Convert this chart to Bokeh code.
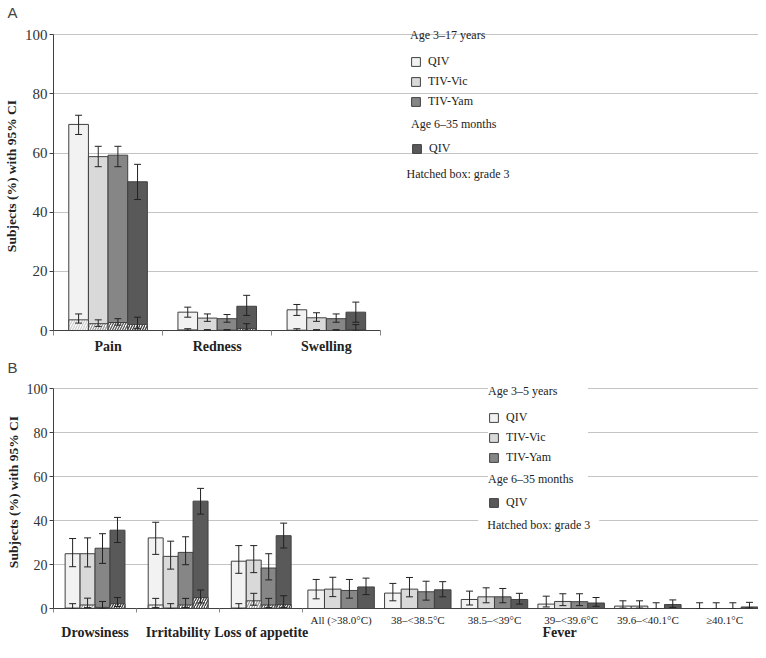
from bokeh.plotting import figure
from bokeh.models import (ColumnDataSource, Whisker, TeeHead, FixedTicker, LinearAxis,
                          Range1d, Legend, LegendItem, Label)
from bokeh.layouts import column
from bokeh.embed import file_html
from bokeh.resources import INLINE

# ---------------- data ----------------
series_labels = ["QIV", "TIV-Vic", "TIV-Yam", "QIV"]

# Panel A: local reactions, age 3-17 y (QIV, TIV-Vic, TIV-Yam) and 6-35 m (QIV)
a_categories = ["Pain", "Redness", "Swelling"]
a_any = [
    [69.7, 6.2, 7.0],
    [58.8, 4.2, 4.3],
    [59.3, 4.0, 4.0],
    [50.3, 8.2, 6.2],
]
a_any_lo = [
    [66.3, 4.5, 5.1],
    [55.4, 3.1, 3.1],
    [55.4, 2.8, 2.8],
    [44.3, 5.1, 2.8],
]
a_any_hi = [
    [72.8, 7.9, 8.8],
    [62.3, 5.6, 6.0],
    [62.3, 5.4, 5.6],
    [56.2, 11.9, 9.6],
]
a_g3 = [
    [3.6, 0.2, 0.1],
    [2.3, 0.0, 0.0],
    [2.7, 0.1, 0.0],
    [2.0, 0.7, 0.3],
]
a_g3_lo = [
    [2.5, 0.0, 0.0],
    [1.4, 0.0, 0.0],
    [1.8, 0.0, 0.0],
    [0.6, 0.1, 0.0],
]
a_g3_hi = [
    [5.6, 0.6, 0.6],
    [3.6, 0.3, 0.3],
    [4.0, 0.3, 0.3],
    [4.5, 2.3, 2.0],
]

# Panel B: systemic reactions, age 3-5 y and 6-35 m
b_main_categories = ["Drowsiness", "Irritability", "Loss of appetite"]
b_fever_categories = ["All (>38.0°C)", "38–<38.5°C", "38.5–<39°C",
                      "39–<39.6°C", "39.6–<40.1°C", "≥40.1°C"]
b_fever_title = "Fever"
b_any = [
    [24.9, 32.1, 21.5, 8.4, 7.0, 4.1, 2.0, 1.1, 0.0],
    [24.9, 23.7, 22.0, 8.8, 8.8, 5.3, 3.2, 1.1, 0.0],
    [27.4, 25.5, 18.4, 8.2, 7.6, 5.3, 3.1, 0.0, 0.0],
    [35.6, 48.8, 33.1, 9.8, 8.5, 4.1, 2.5, 1.8, 0.7],
]
b_any_lo = [
    [19.0, 24.6, 16.0, 4.4, 3.5, 1.6, 0.7, 0.2, 0.0],
    [18.9, 17.9, 16.3, 5.4, 5.3, 2.6, 1.3, 0.2, 0.0],
    [20.5, 19.9, 13.0, 4.7, 3.8, 2.6, 1.3, 0.0, 0.0],
    [30.0, 42.9, 27.5, 6.3, 5.3, 2.0, 1.0, 0.5, 0.2],
]
b_any_hi = [
    [31.8, 39.2, 28.6, 13.2, 11.4, 7.9, 5.6, 3.5, 2.6],
    [32.1, 30.6, 28.6, 14.2, 14.1, 9.4, 6.7, 3.5, 2.6],
    [34.0, 32.6, 24.9, 13.2, 12.4, 9.1, 6.7, 2.6, 2.6],
    [41.4, 54.6, 38.8, 13.8, 12.2, 6.9, 5.0, 3.9, 2.8],
]
b_g3 = [
    [0.2, 1.6, 0.2],
    [1.6, 0.2, 3.5],
    [0.5, 1.6, 1.6],
    [2.2, 5.0, 1.8],
]
b_g3_lo = [
    [0.0, 0.4, 0.0],
    [0.4, 0.0, 1.5],
    [0.0, 0.4, 0.4],
    [0.9, 2.5, 0.5],
]
b_g3_hi = [
    [2.2, 4.6, 2.2],
    [4.7, 2.2, 6.9],
    [3.2, 4.6, 4.6],
    [5.0, 8.4, 5.8],
]

y_ticks = [0, 20, 40, 60, 80, 100]

# ---------------- style ----------------
FILLS = ["#f2f2f2", "#d9d9d9", "#868686", "#595959"]
HATCH = ["#d0d0d0", "#9a9a9a", "#5a5a5a", "#404040"]
EDGE = "#404040"
INK = "#222222"
SERIF = "Liberation Serif"
GRID = "#c4c4c4"


def base_fig(height, x_end, y_end, ytick_size, letter, title_standoff):
    p = figure(width=758, height=height, output_backend="svg", toolbar_location=None,
               x_range=Range1d(0, x_end), y_range=Range1d(0, y_end),
               min_border_left=41, min_border_right=0,
               min_border_top=0, min_border_bottom=0)
    p.outline_line_color = None
    p.xgrid.visible = False
    p.ygrid.ticker = FixedTicker(ticks=y_ticks)
    p.ygrid.grid_line_color = GRID
    ya = p.yaxis[0]
    ya.ticker = FixedTicker(ticks=y_ticks)
    ya.bounds = (0, 100)
    ya.axis_label = "Subjects (%) with 95% CI"
    ya.axis_label_text_font = SERIF
    ya.axis_label_text_font_style = "bold"
    ya.axis_label_text_font_size = "13.5px"
    ya.axis_label_text_color = INK
    ya.axis_label_standoff = 3
    ya.major_label_text_font = SERIF
    ya.major_label_text_font_size = ytick_size
    ya.major_label_text_color = "#333333"
    ya.major_label_standoff = 2
    ya.major_tick_out = 4
    ya.major_tick_in = 0
    ya.minor_tick_out = 0
    ya.minor_tick_in = 0
    ya.axis_line_color = EDGE
    ya.major_tick_line_color = EDGE
    xa = p.xaxis[0]
    xa.axis_label = None
    xa.axis_label_standoff = 0
    xa.axis_line_color = EDGE
    xa.major_tick_out = 0
    xa.major_tick_in = 0
    xa.minor_tick_in = 0
    xa.minor_tick_line_color = "#888888"
    xa.major_label_text_font = SERIF
    xa.major_label_text_color = INK
    p.title.text = letter
    p.title.text_font = "Liberation Sans"
    p.title.text_font_style = "normal"
    p.title.text_font_size = "15px"
    p.title.offset = -46
    p.title.standoff = title_standoff
    return p


def draw_bars(p, centers, widths, vals, lo, hi, g3=None, g3lo=None, g3hi=None):
    renderers = []
    whisk_x, whisk_lo, whisk_hi = [], [], []
    for k in range(4):
        xs = [c + (k - 1.5) * w for c, w in zip(centers, widths)]
        src = ColumnDataSource(dict(x=xs, top=vals[k], w=widths))
        r = p.vbar(x="x", top="top", width="w", source=src, fill_color=FILLS[k],
                   line_color=EDGE, line_width=1)
        renderers.append(r)
        whisk_x += xs
        whisk_lo += lo[k]
        whisk_hi += hi[k]
    if g3 is not None:
        for k in range(4):
            n = len(g3[k])
            xs = [c + (k - 1.5) * w for c, w in zip(centers[:n], widths[:n])]
            src = ColumnDataSource(dict(x=xs, top=g3[k], w=widths[:n]))
            p.vbar(x="x", top="top", width="w", source=src, fill_color="white",
                   line_color=EDGE, line_width=1, hatch_pattern="/",
                   hatch_color=HATCH[k], hatch_scale=5, hatch_weight=1.3)
            whisk_x += xs
            whisk_lo += g3lo[k]
            whisk_hi += g3hi[k]
    wsrc = ColumnDataSource(dict(x=whisk_x, lo=whisk_lo, hi=whisk_hi))
    wh = Whisker(base="x", lower="lo", upper="hi", source=wsrc, dimension="height",
                 line_color=INK, line_width=1, level="overlay",
                 upper_head=TeeHead(size=7, line_color=INK, line_width=1),
                 lower_head=TeeHead(size=7, line_color=INK, line_width=1))
    p.add_layout(wh)
    return renderers


def legend_block(p, renderers, title, loc, standoff, **kw):
    items = [LegendItem(label=series_labels[i], renderers=[renderers[i]]) for i in range(len(renderers))]
    lg = Legend(items=items, title=title, location=loc,
                title_text_font=SERIF, title_text_font_size="12px",
                title_text_font_style="normal", title_text_color=INK,
                title_standoff=standoff,
                label_text_font=SERIF, label_text_font_size="12px", label_text_color=INK,
                glyph_width=11, glyph_height=11, label_standoff=7,
                label_height=20, spacing=0, margin=0, border_line_color=None, **kw)
    p.add_layout(lg)
    return lg


# ---------------- Panel A ----------------
a_unit = 111.0                      # px per category
a_bar_w = 0.18
a_y0, a_y100, a_top = 330.0, 35.0, 21.7      # page rows of 0, 100 and frame top
a_scale = (a_y0 - a_y100) / 100.0
a_centers = [i + 0.5 for i in range(len(a_categories))]
a_widths = [a_bar_w] * len(a_categories)
pa = base_fig(356, 717 / a_unit, (a_y0 - a_top) / a_scale, "15px", "A", 2)
ra = draw_bars(pa, a_centers, a_widths, a_any, a_any_lo, a_any_hi, a_g3, a_g3_lo, a_g3_hi)
pa.ygrid.bounds = (0, (400 - 49) / a_unit)
xa = pa.xaxis[0]
xa.ticker = FixedTicker(ticks=a_centers, minor_ticks=[float(i) for i in range(len(a_categories) + 1)])
xa.major_label_overrides = {c: t for c, t in zip(a_centers, a_categories)}
xa.bounds = (0, len(a_categories))
xa.minor_tick_out = 5
xa.major_label_text_font_style = "bold"
xa.major_label_text_font_size = "14px"
xa.major_label_standoff = 3

legend_block(pa, ra[:3], "Age 3–17 years", (357, a_y0 - 111), 8, background_fill_alpha=0, padding=0)
legend_block(pa, ra[3:], "Age 6–35 months", (358, a_y0 - 158), 6, background_fill_alpha=0, padding=0)
pa.add_layout(Label(x=(408 - 49) / a_unit, y=(a_y0 - 174) / a_scale, text="Hatched box: grade 3",
                    text_font=SERIF, text_font_size="12px", text_color=INK,
                    text_baseline="middle"))

# ---------------- Panel B ----------------
b_unit = 84.5
f_w = 0.923                          # relative width of a fever sub-category
b_y0, b_y100, b_top = 608.0, 388.0, 375.0
b_scale = (b_y0 - b_y100) / 100.0
n_main = len(b_main_categories)
n_fev = len(b_fever_categories)
b_centers = [i + 0.5 for i in range(n_main)] + [n_main + f_w * (j + 0.5) for j in range(n_fev)]
b_centers = [round(c, 4) for c in b_centers]
b_widths = [0.18] * n_main + [0.2] * n_fev
pb = base_fig(286, 717 / b_unit, (b_y0 - b_top) / b_scale, "14px", "B", 0)
rb = draw_bars(pb, b_centers, b_widths, b_any, b_any_lo, b_any_hi, b_g3, b_g3_lo, b_g3_hi)
xb = pb.xaxis[0]
fev_centers = b_centers[n_main:]
xb.ticker = FixedTicker(ticks=fev_centers, minor_ticks=[float(i) for i in range(n_main + 1)])
xb.major_label_overrides = {c: t for c, t in zip(fev_centers, b_fever_categories)}
xb.minor_tick_out = 4
xb.major_label_text_font_size = "11px"
xb.major_label_standoff = 1

fever_pos = round(n_main + f_w * 3.35, 4)
main_ticks = b_centers[:n_main] + [fever_pos]
xb2 = LinearAxis(ticker=FixedTicker(ticks=main_ticks, minor_ticks=[]), axis_label=None,
                 axis_label_standoff=0,
                 major_label_overrides={c: t for c, t in zip(main_ticks, b_main_categories + [b_fever_title])},
                 axis_line_color=None, major_tick_out=0, major_tick_in=0,
                 minor_tick_out=0, minor_tick_in=0,
                 major_label_text_font=SERIF, major_label_text_font_style="bold",
                 major_label_text_font_size="14px", major_label_text_color=INK,
                 major_label_standoff=-4)
pb.add_layout(xb2, "below")

legend_block(pb, rb[:3], "Age 3–5 years", (435, b_y0 - 467), 8,
             background_fill_color="white", background_fill_alpha=1, padding=9, label_width=82)
legend_block(pb, rb[3:], "Age 6–35 months", (435, b_y0 - 512), 5,
             background_fill_color="white", background_fill_alpha=1, padding=9, label_width=82)
pb.add_layout(Label(x=(481 - 49) / b_unit, y=(b_y0 - 524) / b_scale, text="Hatched box: grade 3",
                    text_font=SERIF, text_font_size="12px", text_color=INK,
                    text_baseline="middle", background_fill_color="white",
                    padding=9))

layout = column(pa, pb)
open("out.html", "w").write(file_html(layout, INLINE))
